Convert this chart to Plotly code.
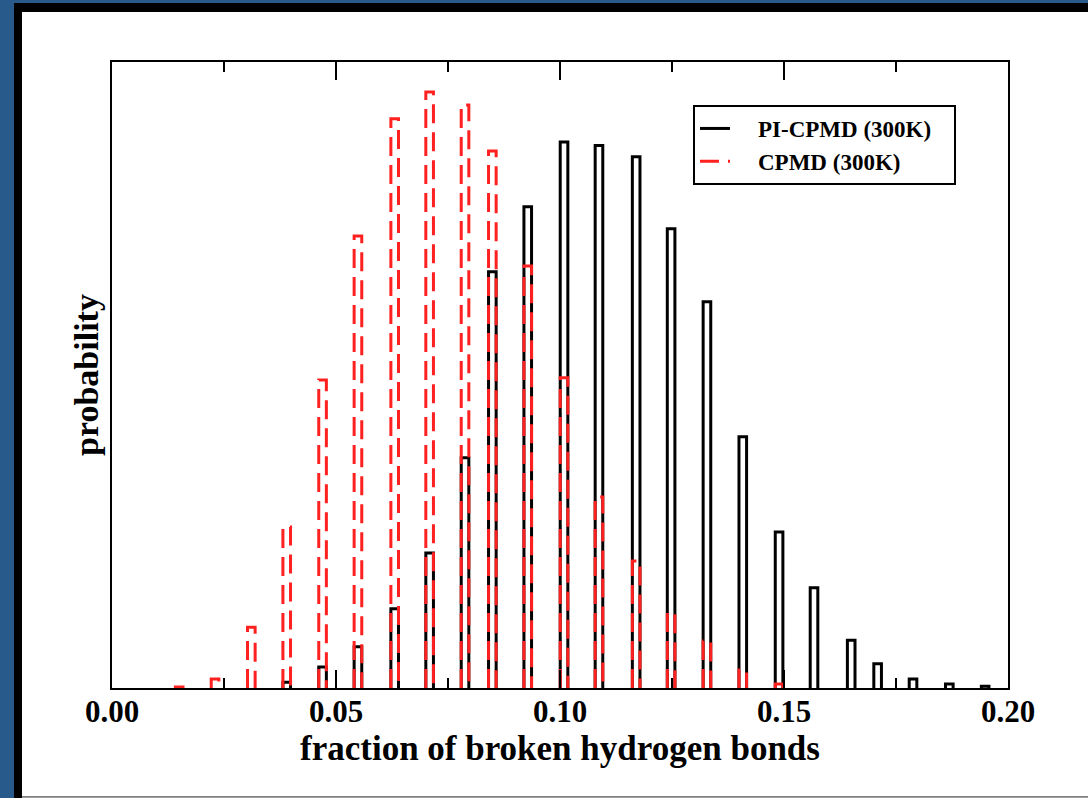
import plotly.graph_objects as go

# ---- data ----
pi_x = [0.0390, 0.0470, 0.0549, 0.0631, 0.0709, 0.0788, 0.0849, 0.0928, 0.1009,
        0.1087, 0.1170, 0.1248, 0.1328, 0.1408, 0.1489, 0.1567, 0.1650, 0.1709,
        0.1788, 0.1869, 0.1949]
pi_p = [0.0013, 0.0047, 0.0092, 0.0177, 0.0302, 0.0515, 0.0931, 0.1076, 0.1221,
        0.1213, 0.1188, 0.1027, 0.0864, 0.0562, 0.0349, 0.0224, 0.0107, 0.0054,
        0.0020, 0.0009, 0.0004]

cp_x = [0.0150, 0.0230, 0.0311, 0.0390, 0.0470, 0.0549, 0.0631, 0.0709, 0.0788,
        0.0849, 0.0928, 0.1009, 0.1087, 0.1170, 0.1248, 0.1328, 0.1408, 0.1489]
cp_p = [0.0002, 0.0020, 0.0136, 0.0360, 0.0689, 0.1011, 0.1273, 0.1333, 0.1304,
        0.1201, 0.0944, 0.0694, 0.0427, 0.0284, 0.0168, 0.0105, 0.0040, 0.0009]

x_ticks = [0.00, 0.05, 0.10, 0.15, 0.20]
x_ticktext = ["0.00", "0.05", "0.10", "0.15", "0.20"]

BAR_W = 0.0017
SERIF = "Liberation Serif"
NB = "\u00a0"


def outline(xs, ps, w):
    px, py = [], []
    for x, p in zip(xs, ps):
        px += [x - w / 2, x - w / 2, x + w / 2, x + w / 2, None]
        py += [0, p, p, 0, None]
    return px, py


fig = go.Figure()
bx, by = outline(pi_x, pi_p, BAR_W)
fig.add_trace(go.Scatter(x=bx, y=by, mode="lines",
                         name=NB * 4 + "PI-CPMD (300K)" + NB * 3,
                         line=dict(color="black", width=3), connectgaps=False))
rx, ry = outline(cp_x, cp_p, BAR_W)
fig.add_trace(go.Scatter(x=rx, y=ry, mode="lines",
                         name=NB * 4 + "CPMD (300K)",
                         line=dict(color="#ff2020", width=3, dash="19px,9px"),
                         connectgaps=False))

W, H = 1088, 798
L, R, T, B = 112, 80, 62, 110
pw, ph = W - L - R, H - T - B


def px2paper(x, y):
    return (x - L) / pw, (H - B - y) / ph


shapes = []
# black frame and white page over blue background
x0, y0 = px2paper(14, 3)
x1, y1 = px2paper(W + 5, H + 5)
shapes.append(dict(type="rect", xref="paper", yref="paper", x0=x0, y0=y0, x1=x1, y1=y1,
                   fillcolor="black", line=dict(width=0), layer="below"))
x0, y0 = px2paper(22, 12)
x1, y1 = px2paper(W + 5, 796.5)
shapes.append(dict(type="rect", xref="paper", yref="paper", x0=x0, y0=y0, x1=x1, y1=y1,
                   fillcolor="white", line=dict(width=0), layer="below"))
x0, y0 = px2paper(22, 797.5)
x1, _ = px2paper(W + 5, 797.5)
shapes.append(dict(type="line", xref="paper", yref="paper", x0=x0, y0=y0, x1=x1, y1=y0,
                   line=dict(color="#a0a0a0", width=1), layer="below"))

lx, ly = px2paper(693, 105)

fig.update_layout(
    width=W, height=H, autosize=False,
    margin=dict(l=L, r=R, t=T, b=B, pad=0),
    paper_bgcolor="#285a8c", plot_bgcolor="white",
    shapes=shapes,
    font=dict(family=SERIF, color="black"),
    showlegend=True,
    legend=dict(x=lx, y=ly, xanchor="left", yanchor="top",
                bgcolor="white", bordercolor="black", borderwidth=2,
                font=dict(family=SERIF, size=23, color="black", weight="bold"),
                tracegroupgap=0),
    xaxis=dict(range=[0, 0.2], tickvals=x_ticks, ticktext=x_ticktext,
               ticks="inside", ticklen=18, tickwidth=2, tickcolor="black",
               minor=dict(dtick=0.025, tick0=0, ticks="inside", ticklen=10,
                          tickwidth=2, tickcolor="black", showgrid=False),
               showline=True, linewidth=2, linecolor="black", mirror="ticks",
               showgrid=False, zeroline=False, ticklabelstandoff=-5,
               tickfont=dict(family=SERIF, size=31, color="black", weight="bold"),
               title=dict(text="fraction of broken hydrogen bonds",
                          font=dict(family=SERIF, size=35, color="black", weight="bold"),
                          standoff=2)),
    yaxis=dict(range=[0, 0.14], showticklabels=False, ticks="",
               showline=True, linewidth=2, linecolor="black", mirror=True,
               showgrid=False, zeroline=False,
               title=dict(text="probability",
                          font=dict(family=SERIF, size=34, color="black", weight="bold"),
                          standoff=1)),
)

fig.write_html("out.html")
